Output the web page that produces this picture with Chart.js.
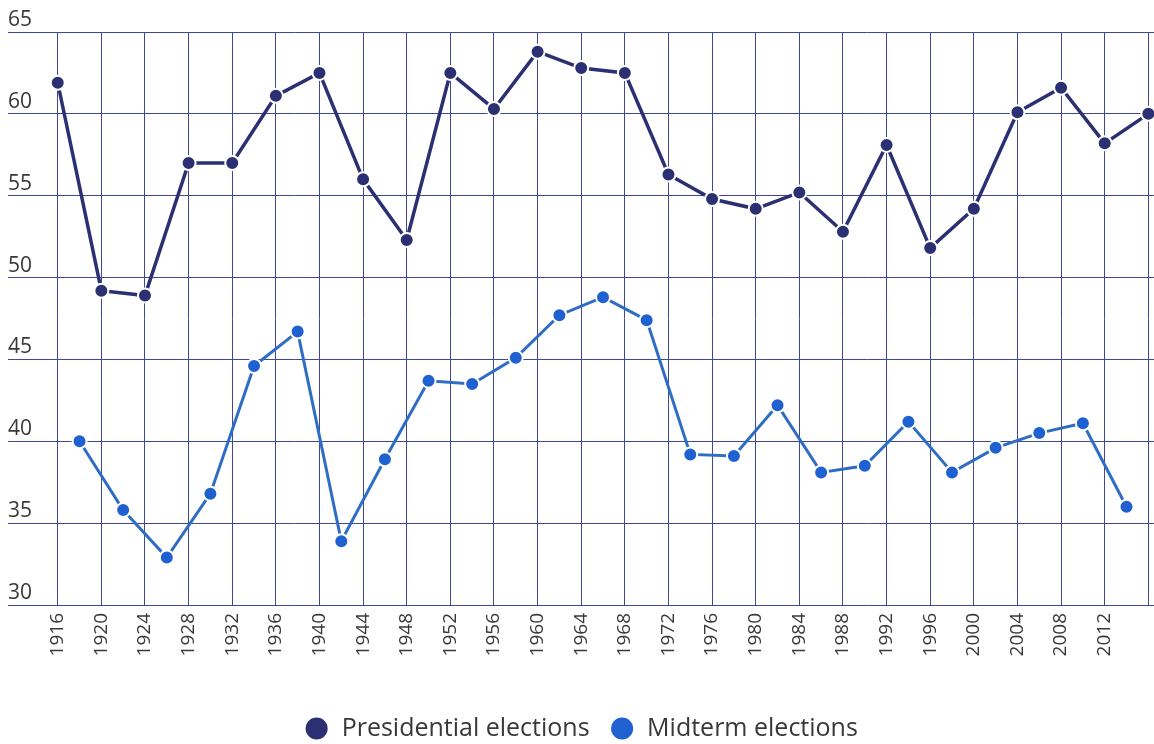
<!DOCTYPE html>
<html>
<head>
<meta charset="utf-8">
<script src="https://cdn.jsdelivr.net/npm/chart.js@4/dist/chart.umd.min.js"></script>
<style>
  html, body { margin: 0; padding: 0; background: #ffffff; }
  #wrap { width: 1154px; height: 744px; position: relative; }
</style>
</head>
<body>
<div id="wrap"><canvas id="chart"></canvas></div>
<script>
// ---- Data ----
const presidentialYears = [1916, 1920, 1924, 1928, 1932, 1936, 1940, 1944, 1948, 1952, 1956, 1960, 1964,
  1968, 1972, 1976, 1980, 1984, 1988, 1992, 1996, 2000, 2004, 2008, 2012, 2016];
const presidentialTurnout = [61.9, 49.2, 48.9, 57.0, 57.0, 61.1, 62.5, 56.0, 52.3, 62.5, 60.3, 63.8, 62.8,
  62.5, 56.3, 54.8, 54.2, 55.2, 52.8, 58.1, 51.8, 54.2, 60.1, 61.6, 58.2, 60.0];

const midtermYears = [1918, 1922, 1926, 1930, 1934, 1938, 1942, 1946, 1950, 1954, 1958, 1962, 1966,
  1970, 1974, 1978, 1982, 1986, 1990, 1994, 1998, 2002, 2006, 2010, 2014];
const midtermTurnout = [40.0, 35.8, 32.9, 36.8, 44.6, 46.7, 33.9, 38.9, 43.7, 43.5, 45.1, 47.7, 48.8,
  47.4, 39.2, 39.1, 42.2, 38.1, 38.5, 41.2, 38.1, 39.6, 40.5, 41.1, 36.0];

const xTickLabels = ['1916', '1920', '1924', '1928', '1932', '1936', '1940', '1944', '1948', '1952',
  '1956', '1960', '1964', '1968', '1972', '1976', '1980', '1984', '1988', '1992', '1996', '2000',
  '2004', '2008', '2012'];
const yTickValues = [30, 35, 40, 45, 50, 55, 60, 65];

const seriesNames = ['Presidential elections', 'Midterm elections'];

// ---- Styles ----
const FONT = "'Open Sans', 'DejaVu Sans', sans-serif";
const GRID = '#3f4796';
const TEXT = '#383838';
const NAVY = '#2b3072';
const BLUE = '#1f61d1';
const BLUE_LINE = '#2e6dc4';

const ctx = document.getElementById('chart').getContext('2d');
new Chart(ctx, {
  type: 'line',
  data: {
    datasets: [
      {
        label: seriesNames[0],
        data: presidentialYears.map((x, i) => ({ x: x, y: presidentialTurnout[i] })),
        borderColor: NAVY,
        backgroundColor: NAVY,
        borderWidth: 3.5,
        pointRadius: 7,
        pointHoverRadius: 7,
        pointBackgroundColor: NAVY,
        pointBorderColor: '#ffffff',
        pointBorderWidth: 2,
        tension: 0,
        clip: false
      },
      {
        label: seriesNames[1],
        data: midtermYears.map((x, i) => ({ x: x, y: midtermTurnout[i] })),
        borderColor: BLUE_LINE,
        backgroundColor: BLUE,
        borderWidth: 3,
        pointRadius: 7,
        pointHoverRadius: 7,
        pointBackgroundColor: BLUE,
        pointBorderColor: '#ffffff',
        pointBorderWidth: 2,
        tension: 0,
        clip: false
      }
    ]
  },
  options: {
    responsive: true,
    maintainAspectRatio: false,
    animation: false,
    events: [],
    layout: { autoPadding: false, padding: { left: 8, right: 0, top: 32, bottom: -7 } },
    scales: {
      x: {
        type: 'linear',
        min: 1911.44,
        max: 2016.52,
        afterBuildTicks: (scale) => {
          const vals = xTickLabels.map(Number).concat([presidentialYears[presidentialYears.length - 1]]);
          scale.ticks = vals.map(v => ({ value: v }));
        },
        afterFit: (scale) => {
          scale.height = 91;
          scale.paddingLeft = 0;
          scale.paddingRight = 0;
        },
        ticks: {
          autoSkip: false,
          minRotation: 90,
          maxRotation: 90,
          padding: 8,
          color: TEXT,
          font: { family: FONT, size: 19 },
          callback: (v) => (xTickLabels.indexOf(String(v)) >= 0 ? String(v) : '')
        },
        grid: { color: GRID, lineWidth: 1, drawTicks: false },
        border: { display: false }
      },
      y: {
        min: 30,
        max: 65,
        afterBuildTicks: (scale) => {
          scale.ticks = yTickValues.map(v => ({ value: v }));
        },
        afterFit: (scale) => {
          scale.paddingTop = 0;
          scale.paddingBottom = 0;
        },
        ticks: {
          mirror: true,
          padding: 0,
          labelOffset: -12,
          color: TEXT,
          font: { family: FONT, size: 21 }
        },
        grid: { color: GRID, lineWidth: 1, drawTicks: false },
        border: { display: false }
      }
    },
    plugins: {
      legend: {
        display: true,
        position: 'bottom',
        labels: {
          usePointStyle: true,
          pointStyle: 'circle',
          boxHeight: 17,
          padding: 20,
          color: TEXT,
          font: { family: FONT, size: 25 }
        }
      },
      tooltip: { enabled: false }
    }
  }
});
</script>
</body>
</html>
